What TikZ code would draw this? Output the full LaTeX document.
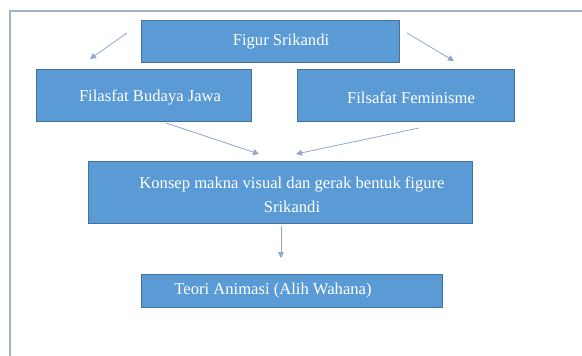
\documentclass[tikz,border=0pt]{standalone}
\usepackage{fontspec}
\setmainfont{Liberation Serif}
\usetikzlibrary{arrows.meta,calc}
\definecolor{boxfill}{HTML}{5B9BD5}
\definecolor{boxline}{HTML}{41719C}
\definecolor{arrowc}{HTML}{8FAACB}
\definecolor{framec}{HTML}{9DB3C8}
\tikzset{
  x=1pt,y=-1pt,
  box/.style={draw=boxline, line width=0.8pt, fill=boxfill, inner sep=0pt},
  txt/.style={text=white, font=\fontsize{16.6}{24}\selectfont, inner sep=0pt, align=center},
  conn/.style={draw=arrowc, line width=0.8pt, -{Triangle[width=6pt,length=6pt]}},
}
\begin{document}
\begin{tikzpicture}
\useasboundingbox (0,0) rectangle (582,356);
\fill[white] (0,0) rectangle (582,356);
% frame (only top and left edges visible)
\draw[framec, line width=1.2pt] (10,356) -- (10,11) -- (582,11);
% boxes
\node[box, minimum width=258pt, minimum height=42pt] (fig) at (270,41) {};
\node[box, minimum width=215pt, minimum height=52pt] (jawa) at (143.5,95) {};
\node[box, minimum width=217pt, minimum height=52pt] (fem) at (405.5,95) {};
\node[box, minimum width=384pt, minimum height=62pt] (kon) at (280,192) {};
\node[box, minimum width=301pt, minimum height=33pt] (teo) at (291.5,290.5) {};
% texts
\node[txt] (tfig) at (281,42) {Figur Srikandi};
\node[txt] (tjawa) at (150,97) {Filasfat Budaya Jawa};
\node[txt] (tfem) at (411,98) {Filsafat Feminisme};
\node[txt] (tkon) at (292,195) {Konsep makna visual dan gerak bentuk figure\\Srikandi};
\node[txt] (tteo) at (273,291) {Teori Animasi (Alih Wahana)};
% arrow endpoints
\coordinate (a1s) at (127,33); \coordinate (a1e) at (90,59);
\coordinate (a2s) at (407,33); \coordinate (a2e) at (454,61);
\coordinate (a3s) at (166,123); \coordinate (a3e) at (259,154);
\coordinate (a4s) at (419,128); \coordinate (a4e) at (296,154);
\coordinate (a5s) at (281,226); \coordinate (a5e) at (281,258);
\draw[conn] (a1s) -- (a1e);
\draw[conn] (a2s) -- (a2e);
\draw[conn] (a3s) -- (a3e);
\draw[conn] (a4s) -- (a4e);
\draw[conn] (a5s) -- (a5e);
\end{tikzpicture}
\end{document}
